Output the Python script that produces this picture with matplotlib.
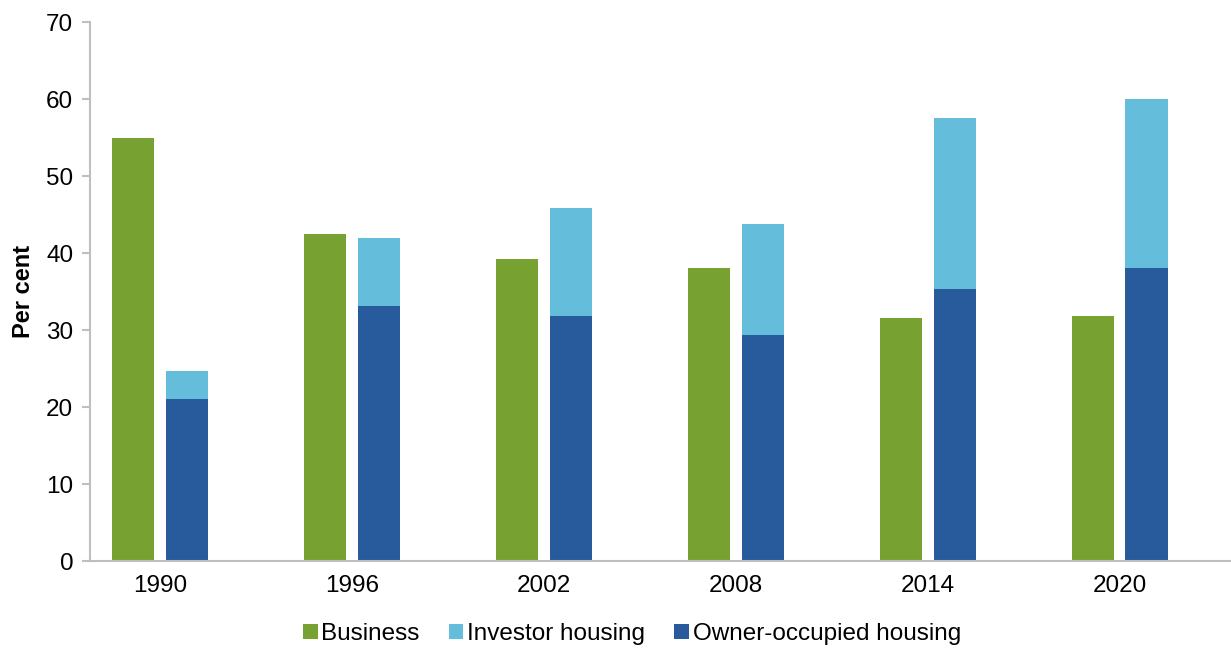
import matplotlib
matplotlib.use("Agg")
import matplotlib.pyplot as plt
import numpy as np

years = ["1990", "1996", "2002", "2008", "2014", "2020"]
business = [55.0, 42.5, 39.2, 38.1, 31.6, 31.8]
owner_occupied = [21.0, 33.1, 31.8, 29.4, 35.3, 38.1]
investor = [3.7, 8.8, 14.0, 14.4, 22.2, 21.9]

plt.rcParams['font.family'] = ['Liberation Sans', 'DejaVu Sans']

green = '#77a232'
light_blue = '#64bddb'
dark_blue = '#275b9b'
grey = '#bfbfbf'

fig = plt.figure(figsize=(12.31, 6.51), dpi=100)
ax = fig.add_axes([0.0731, 0.1382, 0.9269, 0.828])

x = np.arange(len(years))
w = 0.22
off = 0.14

ax.bar(x - off, business, w, color=green, label='Business')
ax.bar(x + off, investor, w, bottom=owner_occupied, color=light_blue, label='Investor housing')
ax.bar(x + off, owner_occupied, w, color=dark_blue, label='Owner-occupied housing')

ax.set_ylim(0, 70)
ax.set_yticks(range(0, 71, 10))
ax.set_xlim(-0.365, 5.58)
ax.set_xticks(x)
ax.set_xticklabels(years)

for s in ['top', 'right']:
    ax.spines[s].set_visible(False)
for s in ['left', 'bottom']:
    ax.spines[s].set_color(grey)
    ax.spines[s].set_linewidth(1.5)

ax.tick_params(axis='y', colors=grey, labelcolor='black', labelsize=17.5, length=6, width=1.5, direction='out', pad=6)
ax.tick_params(axis='x', length=0, labelsize=17.5, pad=10)

ax.set_ylabel('Per cent', fontsize=17, fontweight='bold', labelpad=8)

ax.legend(loc='upper center', bbox_to_anchor=(0.475, -0.088), ncol=3,
          frameon=False, fontsize=17.5, handlelength=0.6, handleheight=0.6,
          handletextpad=0.15, columnspacing=1.2, borderaxespad=0.2)

fig.savefig('out.png', dpi=100)
